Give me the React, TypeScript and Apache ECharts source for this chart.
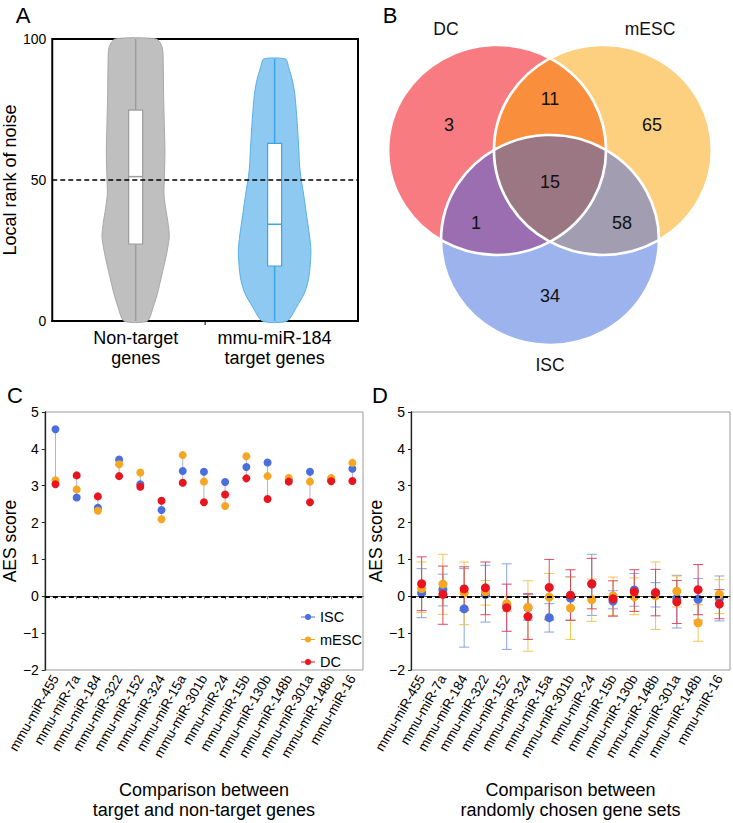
import React, { useEffect, useRef } from 'react';
import * as echarts from 'echarts';

// ---------------- Data ----------------
// Panel A: violin plot
const violinGroups = ['Non-target\ngenes', 'mmu-miR-184\ntarget genes'];
const violinRanks = [
  [0, 5, 10, 15, 20, 25, 30, 35, 40, 45, 50, 60, 70, 80, 90, 97, 100],
  [0, 5, 10, 15, 20, 25, 30, 35, 40, 45, 50, 55, 60, 70, 80, 85, 90, 92.9],
];
const violinDensity = [
  [35, 53, 66, 76, 86, 95, 101, 97, 90, 85, 86, 88, 86, 84, 83, 80, 62],
  [37, 66, 90, 102, 107, 109, 105, 99, 93, 87, 80, 75, 73, 68, 61, 54, 42, 33],
];
const boxLower = [27.3, 19.5];
const boxMedian = [51.2, 34.3];
const boxUpper = [74.8, 63.0];
const referenceRank = 50;

// Panel B: Venn diagram
const vennSets = ['DC', 'mESC', 'ISC'];
const vennRegions = ['DC', 'mESC', 'ISC', 'DC&mESC', 'DC&ISC', 'mESC&ISC', 'DC&mESC&ISC'];
const vennCounts = [3, 65, 34, 11, 1, 58, 15];

// Panels C and D
const mirnas = [
  'mmu-miR-455', 'mmu-miR-7a', 'mmu-miR-184', 'mmu-miR-322', 'mmu-miR-152',
  'mmu-miR-324', 'mmu-miR-15a', 'mmu-miR-301b', 'mmu-miR-24', 'mmu-miR-15b',
  'mmu-miR-130b', 'mmu-miR-148b', 'mmu-miR-301a', 'mmu-miR-148b', 'mmu-miR-16',
];
const cellTypes = ['ISC', 'mESC', 'DC'];

const iscC = [4.53, 2.68, 2.40, 3.71, 3.04, 2.34, 3.40, 3.38, 3.10, 3.51, 3.63, 3.16, 3.38, 3.16, 3.46];
const mescC = [3.15, 2.90, 2.32, 3.58, 3.36, 2.09, 3.83, 3.11, 2.45, 3.80, 3.26, 3.21, 3.11, 3.21, 3.62];
const dcC = [3.04, 3.28, 2.71, 3.26, 2.97, 2.59, 3.08, 2.55, 2.76, 3.20, 2.64, 3.11, 2.55, 3.12, 3.13];

const iscD = [0.09, 0.18, -0.34, 0.05, -0.25, -0.31, -0.58, -0.05, 0.33, -0.13, 0.17, 0.07, -0.06, -0.08, -0.06];
const iscDLow = [-0.58, -0.26, -1.38, -0.70, -1.44, -0.65, -0.97, -0.65, -0.52, -0.34, -0.27, -0.29, -0.86, -0.65, -0.67];
const iscDHigh = [0.75, 0.60, 0.75, 0.84, 0.88, 0.05, -0.20, 0.53, 1.14, 0.15, 0.62, 0.37, 0.57, 0.48, 0.55];

const mescD = [0.21, 0.33, 0.09, 0.12, -0.20, -0.30, -0.02, -0.32, -0.09, 0.01, -0.01, 0.01, 0.14, -0.72, 0.05];
const mescDLow = [-0.44, -0.49, -0.77, -0.24, -0.41, -1.49, -0.65, -1.17, -0.68, -0.52, -0.50, -0.90, -0.29, -1.22, -0.47];
const mescDHigh = [0.93, 1.14, 0.93, 0.43, 0.0, 0.42, 0.62, 0.52, 0.47, 0.52, 0.50, 0.93, 0.55, -0.23, 0.45];

const dcD = [0.34, 0.05, 0.20, 0.23, -0.31, -0.55, 0.24, 0.03, 0.34, -0.07, 0.12, 0.10, -0.15, 0.18, -0.21];
const dcDLow = [-0.39, -0.76, -0.38, -0.50, -0.95, -1.17, -0.62, -0.65, -0.34, -0.54, -0.41, -0.53, -0.74, -0.50, -0.61];
const dcDHigh = [1.07, 0.82, 0.80, 0.93, 0.33, 0.07, 1.00, 0.72, 1.03, 0.42, 0.72, 0.73, 0.43, 0.86, 0.18];

// ---------------- Styles / layout ----------------
const FONT = '"Liberation Sans", Arial, Helvetica, sans-serif';
const typeColors = ['#4a6fdc', '#f5a623', '#e8151f'];
const errColors = ['#7f98de', '#f0c040', '#d83a50'];
const violinStyles = [
  { fill: '#bfbfbf', stroke: '#a8a8a8', line: '#9c9c9c' },
  { fill: '#8dc9f0', stroke: '#55b0e6', line: '#3ea5e4' },
];
const VIOLIN_HALF = 36.3;
const BOX_W = 14;

// Venn geometry (local coords, group scaled horizontally)
const VR = 105;
const VSX = 1.038;
const VOX = 550;
const vennCenters: number[][] = [[-51, 150], [51, 150], [0, 240]];
const vennFills = ['#f77b80', '#fdd080', '#9db3ee', '#f98e3d', '#9b6eb1', '#a29db0', '#9b7683'];
const vennLabelPos = [[449, 125], [652, 125], [550, 296], [550, 99], [476, 223], [622, 223], [550, 182]];
const vennSetLabelPos = [[446, 29], [650, 29], [550, 365]];

function pairPoints(a: number[], b: number[]) {
  const dx = b[0] - a[0], dy = b[1] - a[1];
  const d = Math.hypot(dx, dy);
  const h = Math.sqrt(VR * VR - (d / 2) * (d / 2));
  const mx = a[0] + dx / 2, my = a[1] + dy / 2;
  const ux = -dy / d, uy = dx / d;
  return [[mx + ux * h, my + uy * h], [mx - ux * h, my - uy * h]];
}
function innerOuter(a: number[], b: number[], c: number[]) {
  const [p, q] = pairPoints(a, b);
  return Math.hypot(p[0] - c[0], p[1] - c[1]) < VR ? { inner: p, outer: q } : { inner: q, outer: p };
}
const [cD, cM, cI] = vennCenters;
const DM = innerOuter(cD, cM, cI);
const DI = innerOuter(cD, cI, cM);
const MI = innerOuter(cM, cI, cD);
const pt = (p: number[]) => `${p[0].toFixed(3)},${p[1].toFixed(3)}`;
const arc = (p: number[]) => `A${VR},${VR} 0 0 1 ${pt(p)}`;
const lensPath = (p: number[], q: number[]) => `M${pt(p)} ${arc(q)} ${arc(p)} Z`;
const triplePath = `M${pt(MI.inner)} ${arc(DI.inner)} ${arc(DM.inner)} ${arc(MI.inner)} Z`;

let shapesRegistered = false;
function registerVennShapes() {
  if (shapesRegistered) return;
  shapesRegistered = true;
  echarts.graphic.registerShape('vennLensDM', echarts.graphic.extendPath(lensPath(DM.outer, DM.inner), {}));
  echarts.graphic.registerShape('vennLensDI', echarts.graphic.extendPath(lensPath(DI.outer, DI.inner), {}));
  echarts.graphic.registerShape('vennLensMI', echarts.graphic.extendPath(lensPath(MI.outer, MI.inner), {}));
  echarts.graphic.registerShape('vennTriple', echarts.graphic.extendPath(triplePath, {}));
}

const negFmt = (v: number) => (v < 0 ? '\u2212' + Math.abs(v) : String(v));
const LEGEND_ICON = 'path://M0,3.4H16V4.6H0Z M4.5,4a3.5,3.5 0 1,1 7,0a3.5,3.5 0 1,1 -7,0Z';

function buildOption() {
  const grids = [
    { left: 43, top: 39, width: 315, height: 282, show: true, borderColor: '#000', borderWidth: 2 },
    { left: 44, top: 412, width: 319, height: 258, show: true, borderColor: '#9a9a9a', borderWidth: 1 },
    { left: 411, top: 412, width: 319, height: 258, show: true, borderColor: '#9a9a9a', borderWidth: 1 },
  ];

  const aesY = (gridIndex: number, gap: number) => ({
    type: 'value', gridIndex, min: -2, max: 5, interval: 1,
    name: 'AES score', nameLocation: 'middle', nameGap: gap,
    nameTextStyle: { fontSize: 17.5, color: '#000', fontFamily: FONT },
    axisLine: { show: true, lineStyle: { color: '#222', width: 1.3 } },
    axisTick: { show: true, length: 3, lineStyle: { color: '#222' } },
    splitLine: { show: false },
    axisLabel: { formatter: negFmt, fontSize: 14, color: '#000', margin: 6, fontFamily: FONT },
  });
  const mirX = (gridIndex: number, title: string) => ({
    type: 'category', gridIndex, data: mirnas, boundaryGap: true,
    name: title, nameLocation: 'middle', nameGap: 110,
    nameTextStyle: { fontSize: 18, lineHeight: 20, color: '#000', fontFamily: FONT },
    axisLine: { show: true, lineStyle: { color: '#555', width: 1 } },
    axisTick: { show: true, alignWithLabel: true, length: 3, lineStyle: { color: '#777' } },
    axisLabel: { rotate: 60, interval: 0, fontSize: 13.5, color: '#000', margin: 6, fontFamily: FONT },
  });

  const xAxes = [
    {
      type: 'value', gridIndex: 0, min: -0.6, max: 1.6, interval: 0.2,
      axisLine: { show: true, lineStyle: { color: '#000', width: 2 } },
      axisTick: { show: false }, splitLine: { show: false },
      axisLabel: {
        fontSize: 18, lineHeight: 20, color: '#000', margin: 7, fontFamily: FONT,
        formatter: (v: number) => {
          const idx = violinGroups.findIndex((_, i) => Math.abs(v - i) < 1e-6);
          return idx >= 0 ? violinGroups[idx] : '';
        },
      },
    },
    mirX(1, 'Comparison between\ntarget and non-target genes'),
    mirX(2, 'Comparison between\nrandomly chosen gene sets'),
  ];
  const yAxes = [
    {
      type: 'value', gridIndex: 0, min: 0, max: 100, interval: 50,
      name: 'Local rank of noise', nameLocation: 'middle', nameGap: 22,
      nameTextStyle: { fontSize: 18, color: '#000', fontFamily: FONT },
      axisLine: { show: true, lineStyle: { color: '#000', width: 2 } },
      axisTick: { show: false }, splitLine: { show: false },
      axisLabel: { fontSize: 14, color: '#000', margin: 6, fontFamily: FONT },
    },
    aesY(1, 18),
    aesY(2, 16),
  ];

  const dashLine = (y: number, width: number) => ({
    silent: true, symbol: 'none', label: { show: false },
    lineStyle: { type: [5, 3], color: '#000', width },
    emphasis: { disabled: true },
    data: [{ yAxis: y }],
  });

  const series: any[] = [];

  // Panel A violins
  series.push({
    type: 'custom', name: 'violin', xAxisIndex: 0, yAxisIndex: 0,
    data: violinGroups.map((_, i) => [i, 50]),
    encode: { x: 0, y: 1 },
    renderItem: (params: any, api: any) => {
      const i = params.dataIndex;
      const xc = api.value(0);
      const ranks = violinRanks[i];
      const dens = violinDensity[i];
      const dMax = Math.max(...violinDensity.map((d) => Math.max(...d)));
      const sc = VIOLIN_HALF / dMax;
      const right = ranks.map((r, k) => { const p = api.coord([xc, r]); return [p[0] + dens[k] * sc, p[1]]; });
      const left = ranks.map((r, k) => { const p = api.coord([xc, r]); return [p[0] - dens[k] * sc, p[1]]; }).reverse();
      const st = violinStyles[i];
      const top = api.coord([xc, ranks[ranks.length - 1]]);
      const bot = api.coord([xc, ranks[0]]);
      const q1 = api.coord([xc, boxLower[i]]);
      const q3 = api.coord([xc, boxUpper[i]]);
      const md = api.coord([xc, boxMedian[i]]);
      const children: any[] = [
        { type: 'polygon', shape: { points: right.concat(left), smooth: 0.25 }, style: { fill: st.fill, stroke: st.stroke, lineWidth: 1 } },
        { type: 'line', shape: { x1: top[0], y1: top[1], x2: bot[0], y2: bot[1] }, style: { stroke: st.line, lineWidth: 1.5 } },
        { type: 'rect', shape: { x: q3[0] - BOX_W / 2, y: q3[1], width: BOX_W, height: q1[1] - q3[1] }, style: { fill: '#fff', stroke: st.line, lineWidth: 1.2 } },
        { type: 'line', shape: { x1: md[0] - BOX_W / 2, y1: md[1], x2: md[0] + BOX_W / 2, y2: md[1] }, style: { stroke: st.line, lineWidth: 1.5 } },
      ];
      if (i === 0) {
        const t = api.coord([0.5, 0]);
        children.push({ type: 'line', shape: { x1: t[0], y1: t[1], x2: t[0], y2: t[1] + 4 }, style: { stroke: '#000', lineWidth: 1 } });
      }
      return { type: 'group', children };
    },
    markLine: dashLine(referenceRank, 1.5),
    z: 2,
  });

  // Panel C range lines
  const cVals = [iscC, mescC, dcC];
  series.push({
    type: 'custom', name: 'rangeC', xAxisIndex: 1, yAxisIndex: 1,
    data: mirnas.map((_, i) => {
      const vs = cVals.map((a) => a[i]);
      return [i, Math.min(...vs), Math.max(...vs)];
    }),
    encode: { x: 0, y: [1, 2] },
    renderItem: (params: any, api: any) => {
      const a = api.coord([api.value(0), api.value(1)]);
      const b = api.coord([api.value(0), api.value(2)]);
      return { type: 'line', shape: { x1: a[0], y1: a[1], x2: b[0], y2: b[1] }, style: { stroke: '#aab3d8', lineWidth: 1 } };
    },
    markLine: dashLine(0, 2),
    z: 1,
  });
  cVals.forEach((vals, k) => {
    series.push({
      type: 'scatter', name: cellTypes[k], xAxisIndex: 1, yAxisIndex: 1,
      data: vals.map((v, i) => [i, v]), symbolSize: 8,
      itemStyle: { color: typeColors[k], opacity: 1 }, z: 3 + k,
    });
  });

  // Panel D error bars + points
  const dVals = [iscD, mescD, dcD];
  const dLow = [iscDLow, mescDLow, dcDLow];
  const dHigh = [iscDHigh, mescDHigh, dcDHigh];
  dVals.forEach((_, k) => {
    series.push({
      type: 'custom', name: 'err' + cellTypes[k], xAxisIndex: 2, yAxisIndex: 2,
      data: mirnas.map((__, i) => [i, dLow[k][i], dHigh[k][i]]),
      encode: { x: 0, y: [1, 2] },
      renderItem: (params: any, api: any) => {
        const lo = api.coord([api.value(0), api.value(1)]);
        const hi = api.coord([api.value(0), api.value(2)]);
        const cw = 5;
        const s = { stroke: errColors[k], lineWidth: 1, opacity: 0.9 };
        return {
          type: 'group', children: [
            { type: 'line', shape: { x1: lo[0], y1: lo[1], x2: hi[0], y2: hi[1] }, style: s },
            { type: 'line', shape: { x1: lo[0] - cw, y1: lo[1], x2: lo[0] + cw, y2: lo[1] }, style: s },
            { type: 'line', shape: { x1: hi[0] - cw, y1: hi[1], x2: hi[0] + cw, y2: hi[1] }, style: s },
          ],
        };
      },
      z: 1,
      ...(k === 0 ? { markLine: dashLine(0, 2) } : {}),
    });
  });
  dVals.forEach((vals, k) => {
    series.push({
      type: 'scatter', name: cellTypes[k], xAxisIndex: 2, yAxisIndex: 2,
      data: vals.map((v, i) => [i, v]), symbolSize: 9,
      itemStyle: { color: typeColors[k], opacity: 1 }, z: 3 + k,
    });
  });

  // Graphics: panel labels + Venn
  const panelLabelPos = [[23, 15], [390, 15], [15, 395], [380, 395]];
  const graphics: any[] = ['A', 'B', 'C', 'D'].map((t, i) => ({
    type: 'text', x: panelLabelPos[i][0], y: panelLabelPos[i][1],
    style: { text: t, fontSize: 22, fontFamily: FONT, fill: '#000', align: 'center', verticalAlign: 'middle' },
  }));

  const vennChildren: any[] = [];
  vennCenters.forEach((c, i) => {
    vennChildren.push({ type: 'circle', shape: { cx: c[0], cy: c[1], r: VR }, style: { fill: vennFills[i] } });
  });
  ['vennLensDM', 'vennLensDI', 'vennLensMI', 'vennTriple'].forEach((t, i) => {
    vennChildren.push({ type: t, style: { fill: vennFills[3 + i] } });
  });
  vennCenters.forEach((c) => {
    vennChildren.push({ type: 'circle', shape: { cx: c[0], cy: c[1], r: VR }, style: { fill: 'none', stroke: '#fff', lineWidth: 2.6 } });
  });
  graphics.push({ type: 'group', x: VOX, y: 0, scaleX: VSX, children: vennChildren });

  vennRegions.forEach((r, i) => {
    graphics.push({
      type: 'text', x: vennLabelPos[i][0], y: vennLabelPos[i][1],
      style: { text: String(vennCounts[i]), fontSize: 18, fontFamily: FONT, fill: '#111', align: 'center', verticalAlign: 'middle' },
    });
  });
  vennSets.forEach((s, i) => {
    graphics.push({
      type: 'text', x: vennSetLabelPos[i][0], y: vennSetLabelPos[i][1],
      style: { text: s, fontSize: 17.5, fontFamily: FONT, fill: '#111', align: 'center', verticalAlign: 'middle' },
    });
  });

  return {
    animation: false,
    backgroundColor: '#fff',
    textStyle: { fontFamily: FONT },
    grid: grids,
    xAxis: xAxes,
    yAxis: yAxes,
    legend: {
      data: cellTypes,
      orient: 'vertical', left: 296, top: 604,
      icon: LEGEND_ICON, itemWidth: 14, itemHeight: 7, itemGap: 6.5,
      textStyle: { fontSize: 14.5, lineHeight: 16, color: '#000', fontFamily: FONT },
      selectedMode: false,
    },
    graphic: graphics,
    series,
  };
}

export default function App() {
  const ref = useRef<HTMLDivElement>(null);
  useEffect(() => {
    if (!ref.current) return;
    registerVennShapes();
    const chart = echarts.init(ref.current, undefined, { renderer: 'svg' });
    chart.setOption(buildOption() as any);
    return () => chart.dispose();
  }, []);
  return (
    <div
      ref={ref}
      style={{ position: 'absolute', left: 0, top: 0, width: 733, height: 823, background: '#fff' }}
    />
  );
}
